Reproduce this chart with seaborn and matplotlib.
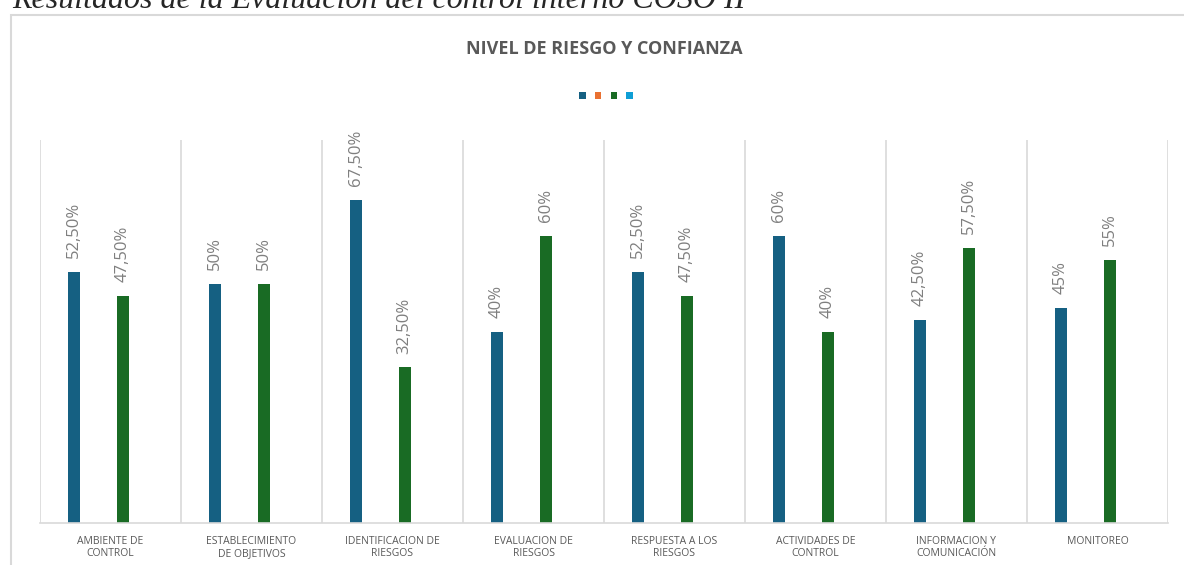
import matplotlib
matplotlib.use("Agg")
from matplotlib import pyplot as plt
from matplotlib.patches import Patch, Rectangle
import pandas as pd
import seaborn as sns

categories = ["AMBIENTE DE\nCONTROL", "ESTABLECIMIENTO\nDE OBJETIVOS", "IDENTIFICACION DE\nRIESGOS",
              "EVALUACION DE\nRIESGOS", "RESPUESTA A LOS\nRIESGOS", "ACTIVIDADES DE\nCONTROL",
              "INFORMACION Y\nCOMUNICACIÓN", "MONITOREO"]
series = ["s1", "s2", "s3", "s4"]
riesgo = [52.5, 50, 67.5, 40, 52.5, 60, 42.5, 45]
confianza = [47.5, 50, 32.5, 60, 47.5, 40, 57.5, 55]
empty = [0] * len(categories)
colors = ["#156082", "#E97132", "#196B24", "#0F9ED5"]

rows = []
for name, vals in zip(series, [riesgo, empty, confianza, empty]):
    for cat, v in zip(categories, vals):
        rows.append({"cat": cat, "serie": name, "valor": v})
df = pd.DataFrame(rows)

sns.set_style("white")
plt.rcParams["font.family"] = ["Open Sans", "DejaVu Sans"]

fig = plt.figure(figsize=(11.84, 5.65), dpi=100)
ax = fig.add_axes([40 / 1184, 42 / 565, 1128 / 1184, 383 / 565])

sns.barplot(data=df, x="cat", y="valor", hue="serie", order=categories, hue_order=series,
            palette=colors, saturation=1, width=0.695, gap=0.5, errorbar=None, legend=False,
            linewidth=0, ax=ax)


def fmt(v):
    if float(v).is_integer():
        return "%d%%" % v
    return ("%.2f%%" % v).replace(".", ",")


for idx, vals in [(0, riesgo), (2, confianza)]:
    ax.bar_label(ax.containers[idx], labels=[fmt(v) for v in vals], rotation=90,
                 padding=10, fontsize=12, color="#7F7F7F")

ax.set_ylim(0, 80)
ax.set_xlim(-0.5, len(categories) - 0.5)
ax.set_yticks([])
ax.set_xlabel("")
ax.set_ylabel("")
for s in ["top", "right", "left"]:
    ax.spines[s].set_visible(False)
ax.spines["bottom"].set_color("#D9D9D9")
ax.spines["bottom"].set_linewidth(1.2)
for i in range(len(categories) + 1):
    ax.axvline(i - 0.5, color="#D9D9D9", linewidth=1.2, zorder=0)
ax.tick_params(axis="x", length=0, pad=9, labelsize=7.5, labelcolor="#595959")

# chart border
fig.patches.append(Rectangle((11 / 1184, -0.1), 1.2, 1 - 15 / 565 + 0.1, transform=fig.transFigure,
                             fill=False, edgecolor="#D9D9D9", linewidth=1.5))

fig.text(604 / 1184, 1 - 49 / 565, "NIVEL DE RIESGO Y CONFIANZA", ha="center", va="center",
         fontsize=13, fontweight="bold", color="#595959")

handles = [Patch(facecolor=c, edgecolor="none") for c in colors]
fig.legend(handles, [""] * 4, loc="center", bbox_to_anchor=(606 / 1184, 1 - 96 / 565), ncol=4,
           frameon=False, handlelength=0.5, handleheight=0.5, handletextpad=0,
           columnspacing=0.75, fontsize=9)

fig.text(12 / 1184, 1 - 8 / 565, "Resultados de la Evaluación del control interno COSO II",
         ha="left", va="baseline", fontsize=23, fontstyle="italic", family="Liberation Serif")

fig.savefig("out.png", dpi=100)
